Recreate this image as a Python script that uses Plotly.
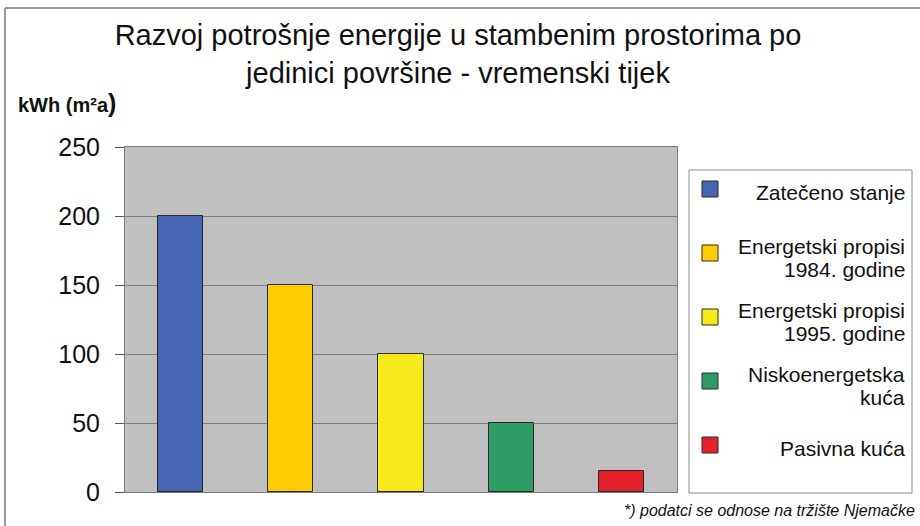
import plotly.graph_objects as go

categories = ["Zatečeno stanje", "Energetski propisi<br>1984. godine", "Energetski propisi<br>1995. godine",
              "Niskoenergetska<br>kuća", "Pasivna kuća"]
values = [200, 150, 100, 50, 15]
colors = ["#4764B2", "#FFCC00", "#F6EA1C", "#2E9A64", "#E5202A"]
y_ticks = [0, 50, 100, 150, 200, 250]
title_text = "Razvoj potrošnje energije u stambenim prostorima po<br>jedinici površine - vremenski tijek"
y_label = "kWh (m²a)"
footnote = "*) podatci se odnose na tržište Njemačke"

W, H = 920, 526
L, R, T, B = 125, 677, 147, 492  # plot area in pixels


def px(x):
    return (x - L) / (R - L)


def py(y):
    return (B - y) / (B - T)


fig = go.Figure()
fig.add_trace(go.Bar(
    x=list(range(len(categories))), y=values,
    marker=dict(color=colors, line=dict(color="#2a2a2a", width=1)),
    width=0.41, showlegend=False, hoverinfo="y",
))

shapes = []
annotations = []
FONT = "Liberation Sans, Arial"

# legend box
shapes.append(dict(type="rect", xref="paper", yref="paper",
                   x0=px(689), x1=px(912), y0=py(170), y1=py(493),
                   line=dict(color="#8a8a8a", width=1), fillcolor="white", layer="below"))
for i, (name, col) in enumerate(zip(categories, colors)):
    cy = 189 + 64 * i
    shapes.append(dict(type="rect", xref="paper", yref="paper",
                       x0=px(702), x1=px(718), y0=py(cy - 8), y1=py(cy + 8),
                       line=dict(color="#2a2a2a", width=1), fillcolor=col))
    lines = name.split("<br>")
    if len(lines) == 1:
        ys = [cy + 3]
    else:
        ys = [cy - 7, cy + 16]
    for ln, yy in zip(lines, ys):
        annotations.append(dict(xref="paper", yref="paper", x=px(907), y=py(yy),
                                xanchor="right", yanchor="middle", align="right",
                                text=ln, showarrow=False,
                                font=dict(family=FONT, size=21, color="#111")))

# outer image frame
shapes.append(dict(type="line", xref="paper", yref="paper", x0=px(5), x1=px(920), y0=py(8), y1=py(8),
                   line=dict(color="#9a9a9a", width=2)))
shapes.append(dict(type="line", xref="paper", yref="paper", x0=px(5), x1=px(5), y0=py(8), y1=py(526),
                   line=dict(color="#9a9a9a", width=2)))

annotations.append(dict(xref="paper", yref="paper", x=px(16), y=py(103), xanchor="left", yanchor="middle",
                        text="<b>kWh (m²a<span style='font-size:25px'>)</span></b>", showarrow=False,
                        font=dict(family=FONT, size=20, color="#111")))
annotations.append(dict(xref="paper", yref="paper", x=px(917), y=py(510), xanchor="right", yanchor="middle",
                        text="<i>" + footnote + "</i>", showarrow=False,
                        font=dict(family=FONT, size=16, color="#111")))

fig.update_layout(
    width=W, height=H,
    margin=dict(l=L, r=W - R, t=T, b=H - B, pad=0),
    paper_bgcolor="white", plot_bgcolor="#C0C0C0",
    title=dict(text=title_text, xref="container", yref="container",
               x=458 / W, xanchor="center", y=1 - 45 / H, yanchor="middle",
               font=dict(family=FONT, size=29, color="#111")),
    xaxis=dict(range=[-0.5, len(categories) - 0.5], showticklabels=False, ticks="",
               showgrid=False, zeroline=False, showline=True, linecolor="#7a7a7a", linewidth=1, mirror=True),
    yaxis=dict(range=[0, 250], tickvals=y_ticks, ticks="outside", ticklen=9, tickcolor="#555",
               ticklabelstandoff=10,
               showgrid=True, gridcolor="#7f7f7f", gridwidth=1, zeroline=False,
               showline=True, linecolor="#7a7a7a", linewidth=1, mirror=True,
               tickfont=dict(family=FONT, size=25, color="#111")),
    shapes=shapes, annotations=annotations,
    bargap=0,
)

fig.write_html("out.html", config={"displayModeBar": False},
               post_script="document.body.style.margin='0px';document.body.style.overflow='hidden';")
